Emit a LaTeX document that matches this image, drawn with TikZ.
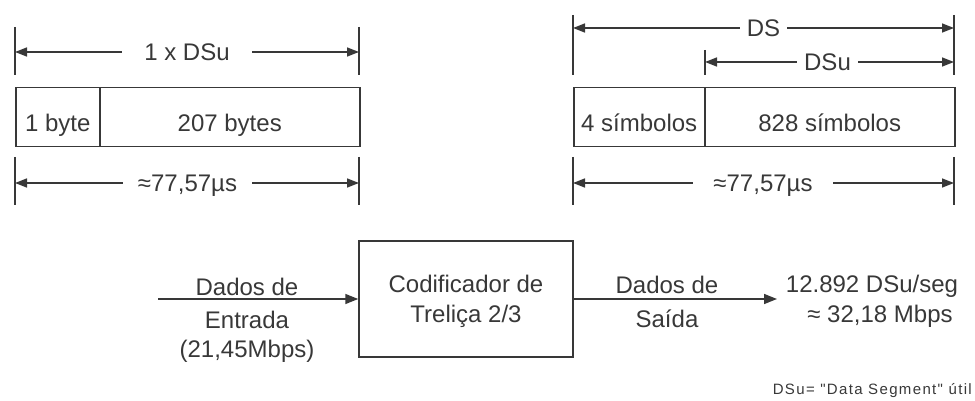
\documentclass[tikz,border=0pt]{standalone}
\usepackage{fontspec}
\setmainfont{Liberation Sans}
\newfontfamily\notefont[LetterSpace=9]{Liberation Sans}
\usetikzlibrary{arrows.meta}
\definecolor{ink}{HTML}{383838}
\tikzset{
  dim/.style={ink, line width=1.5pt, -{Triangle[length=12pt,width=9pt]}},
  flow/.style={ink, line width=1.5pt, -{Triangle[length=13pt,width=10pt]}},
  tickline/.style={ink, line width=1.5pt},
  txt/.style={inner sep=0pt, text=ink, font=\fontsize{24}{30}\selectfont},
  dimtext/.style={txt, text depth=0pt, minimum height=20pt},
  cell/.style={txt, draw=ink, line width=1.5pt, anchor=north west, minimum height=59pt, text height=29pt, text depth=0pt},
}
\begin{document}
\begin{tikzpicture}[x=1pt,y=-1pt]
\useasboundingbox (0,0) rectangle (975,401);
\draw [tickline] (15,27) -- (15,75);
\draw [tickline] (359,27) -- (359,75);
\coordinate (la) at (15,52);
\coordinate (lb) at (359,52);
\node [dimtext, minimum width=130pt] (onedsu) at (187,52) {1 x DSu};
\draw [dim] (onedsu) -- (la);
\draw [dim] (onedsu) -- (lb);
\node [cell, minimum width=84pt] (hdr) at (15,87) {1 byte};
\node [cell, minimum width=260pt] (pay) at (99,87) {207 bytes};
\draw [tickline] (15,157) -- (15,205);
\draw [tickline] (359,157) -- (359,205);
\coordinate (lc) at (15,183);
\coordinate (ld) at (359,183);
\node [dimtext, minimum width=129pt] (ltime) at (187.5,183) {≈77,57µs};
\draw [dim] (ltime) -- (lc);
\draw [dim] (ltime) -- (ld);
\draw [tickline] (573,15) -- (573,75);
\draw [tickline] (954,15) -- (954,75);
\draw [tickline] (705,50) -- (705,75);
\coordinate (ra) at (573,28);
\coordinate (rb) at (954,28);
\node [dimtext, minimum width=47pt] (ds) at (763.5,28) {DS};
\draw [dim] (ds) -- (ra);
\draw [dim] (ds) -- (rb);
\coordinate (rc) at (705,62);
\coordinate (rd) at (954,62);
\node [dimtext, minimum width=61pt] (dsu) at (827.5,62) {DSu};
\draw [dim] (dsu) -- (rc);
\draw [dim] (dsu) -- (rd);
\node [cell, minimum width=131pt] (sync) at (573,87) {4 símbolos};
\node [cell, minimum width=250pt] (sym) at (704,87) {828 símbolos};
\draw [tickline] (573,157) -- (573,205);
\draw [tickline] (954,157) -- (954,205);
\coordinate (re) at (573,183);
\coordinate (rf) at (954,183);
\node [dimtext, minimum width=140pt] (rtime) at (763,183) {≈77,57µs};
\draw [dim] (rtime) -- (re);
\draw [dim] (rtime) -- (rf);
\node [txt, draw=ink, line width=1.5pt, minimum width=214pt, minimum height=116pt, align=center, text depth=0pt] (coder) at (466,299) {Codificador de\\Treliça 2/3};
\coordinate (src) at (158,299);
\coordinate (dst) at (777,299);
\draw [flow] (src) -- (coder);
\draw [flow] (coder) -- (dst);
\node [txt, anchor=base] (inA) at (247,295) {Dados de};
\node [txt, anchor=base] (inB) at (247,328) {Entrada};
\node [txt, anchor=base] (inC) at (247,357) {(21,45Mbps)};
\node [txt, anchor=base] (outA) at (667,293) {Dados de};
\node [txt, anchor=base] (outB) at (667,327) {Saída};
\node [txt, anchor=base] (rateA) at (872,292) {12.892 DSu/seg};
\node [txt, anchor=base] (rateB) at (880,322) {≈ 32,18 Mbps};
\node [inner sep=0pt, text=ink, font=\notefont\fontsize{15}{18}\selectfont, anchor=base east] (legend) at (972,394) {DSu= \char34 Data Segment\char34\ útil};
\end{tikzpicture}
\end{document}
